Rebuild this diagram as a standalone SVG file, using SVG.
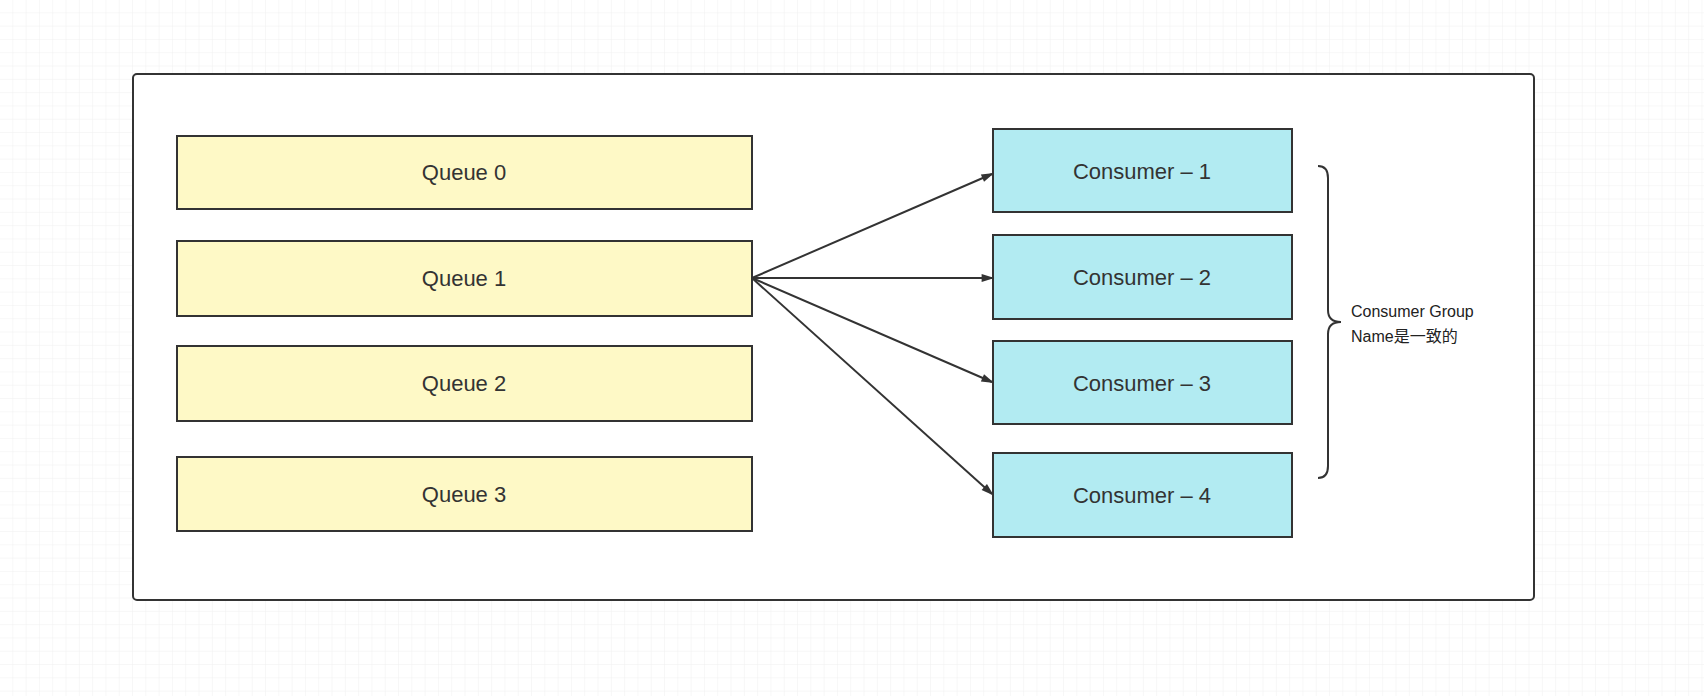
<svg xmlns="http://www.w3.org/2000/svg" width="1704" height="696" viewBox="0 0 1704 696">
<style>
.q{fill:#fef9c6;stroke:#333;stroke-width:2}
.c{fill:#b2ebf2;stroke:#333;stroke-width:2}
.t{font-family:"Liberation Sans",Arial,sans-serif;font-size:22px;fill:#333;text-anchor:middle;dominant-baseline:central}
.e{stroke:#333;stroke-width:2;fill:none;marker-end:url(#a)}
</style>
<defs>
<pattern id="g" width="13.3" height="13.3" patternUnits="userSpaceOnUse"><path d="M13.3 0V13.3H0" fill="none" stroke="#efefef" stroke-width="1"/></pattern>
<marker id="a" viewBox="0 0 10 10" refX="9" refY="5" markerWidth="8" markerHeight="8" orient="auto" markerUnits="userSpaceOnUse" overflow="visible"><path d="M-4 0L12 5L-4 10Z" fill="#333"/></marker>
</defs>
<rect width="1704" height="696" fill="#fff"/>
<rect width="1704" height="696" fill="url(#g)"/>
<rect id="container" x="133" y="74" width="1401" height="526" rx="4" fill="#fff" stroke="#333" stroke-width="2"/>
<g id="queue0"><rect class="q" x="177" y="136" width="575" height="73"/><text class="t" x="464" y="172">Queue 0</text></g>
<g id="queue1"><rect class="q" x="177" y="241" width="575" height="75"/><text class="t" x="464" y="278">Queue 1</text></g>
<g id="queue2"><rect class="q" x="177" y="346" width="575" height="75"/><text class="t" x="464" y="383">Queue 2</text></g>
<g id="queue3"><rect class="q" x="177" y="457" width="575" height="74"/><text class="t" x="464" y="494">Queue 3</text></g>
<g id="consumer1"><rect class="c" x="993" y="129" width="299" height="83"/><text class="t" x="1142" y="171">Consumer – 1</text></g>
<g id="consumer2"><rect class="c" x="993" y="235" width="299" height="84"/><text class="t" x="1142" y="277">Consumer – 2</text></g>
<g id="consumer3"><rect class="c" x="993" y="341" width="299" height="83"/><text class="t" x="1142" y="383">Consumer – 3</text></g>
<g id="consumer4"><rect class="c" x="993" y="453" width="299" height="84"/><text class="t" x="1142" y="495">Consumer – 4</text></g>
<g id="connectors">
<path class="e" d="M752 278L992 174"/>
<path class="e" d="M752 278L992 278"/>
<path class="e" d="M752 278L992 382"/>
<path class="e" d="M752 278L992 494"/>
</g>
<g id="group-label">
<path d="M1318 166Q1328 166 1328 178V310Q1328 322 1341 322Q1328 322 1328 334V466Q1328 478 1318 478" fill="none" stroke="#333" stroke-width="2"/>
<text font-family="'Liberation Sans','Noto Sans CJK SC',sans-serif" font-size="16" fill="#222"><tspan x="1351" y="317">Consumer Group</tspan><tspan x="1351" y="342">Name是一致的</tspan></text>
</g>
</svg>
